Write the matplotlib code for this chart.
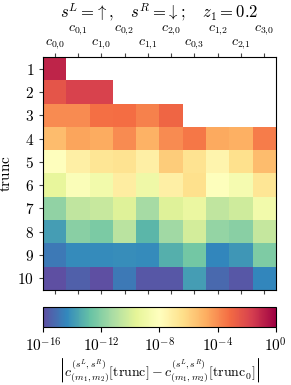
import numpy as np
import matplotlib
matplotlib.use("Agg")
import matplotlib.pyplot as plt
from matplotlib.colors import LogNorm

plt.rcParams['mathtext.fontset'] = 'cm'
plt.rcParams['font.family'] = 'serif'
plt.rcParams['font.serif'] = ['DejaVu Serif']

# -------- DATA --------
coeff_labels = [r"$c_{0,\!0}$", r"$c_{0,\!1}$", r"$c_{1,\!0}$", r"$c_{0,\!2}$", r"$c_{1,\!1}$",
                r"$c_{2,\!0}$", r"$c_{0,\!3}$", r"$c_{1,\!2}$", r"$c_{2,\!1}$", r"$c_{3,\!0}$"]
trunc_values = [1, 2, 3, 4, 5, 6, 7, 8, 9, 10]
cbar_ticks = [1e-16, 1e-12, 1e-8, 1e-4, 1e0]
cbar_ticklabels = [r"$10^{-16}$", r"$10^{-12}$", r"$10^{-8}$", r"$10^{-4}$", r"$10^{0}$"]

# log10 of |difference|, nan where coefficient does not exist at that trunc
log_diff = np.array([
    [-1.0, np.nan, np.nan, np.nan, np.nan, np.nan, np.nan, np.nan, np.nan, np.nan],
    [-2.4, -1.8, -1.8, np.nan, np.nan, np.nan, np.nan, np.nan, np.nan, np.nan],
    [-4.0, -4.0, -3.3, -3.2, -3.7, -3.0, np.nan, np.nan, np.nan, np.nan],
    [-5.3, -4.6, -4.8, -4.0, -5.0, -4.0, -3.5, -4.7, -4.9, -3.6],
    [-8.0, -7.2, -6.7, -6.6, -7.2, -5.8, -6.6, -7.5, -6.5, -5.3],
    [-9.4, -8.3, -8.8, -7.1, -9.0, -7.2, -6.5, -8.1, -8.6, -6.7],
    [-11.8, -10.6, -10.4, -9.8, -11.3, -9.8, -9.2, -10.6, -10.2, -8.8],
    [-13.8, -12.0, -12.3, -10.8, -13.1, -11.4, -10.1, -11.7, -12.0, -10.5],
    [-14.8, -14.3, -14.3, -14.2, -14.3, -13.3, -12.5, -14.4, -14.0, -12.2],
    [-16.0, -15.5, -16.0, -14.8, -15.7, -15.7, -13.8, -15.2, -15.7, -14.4],
])
diff = 10.0 ** log_diff

# -------- PLOT --------
fig = plt.figure(figsize=(2.91, 3.85), dpi=100)
ax = fig.add_axes([0.148, 0.247, 0.8, 0.605])
cax = fig.add_axes([0.148, 0.151, 0.8, 0.052])

cmap = plt.get_cmap("Spectral_r").copy()
cmap.set_bad("white")
norm = LogNorm(vmin=1e-16, vmax=1e0)
im = ax.imshow(np.ma.masked_invalid(diff), cmap=cmap, norm=norm,
               aspect="auto", interpolation="nearest")

ax.set_xticks(range(len(coeff_labels)))
ax.set_xticklabels(coeff_labels, fontsize=10)
ax.xaxis.set_ticks_position("both")
ax.tick_params(axis="x", labeltop=True, labelbottom=False, length=3, color="#444444")
for i, t in enumerate(ax.xaxis.get_major_ticks()):
    t.set_pad(1.5 if i % 2 == 0 else 11.5)

ax.set_yticks(range(len(trunc_values)))
ax.set_yticklabels([f"${v}$" for v in trunc_values], fontsize=11)
ax.tick_params(axis="y", length=3, color="#444444")
ax.set_ylabel(r"$\mathrm{trunc}$", fontsize=11, labelpad=3)

ax.set_title(r"$s^L=\!\uparrow,\quad s^R=\!\downarrow;\quad z_1=0.2$",
             fontsize=12, y=1.0, pad=28.5)

cb = fig.colorbar(im, cax=cax, orientation="horizontal")
cb.set_ticks(cbar_ticks)
cb.set_ticklabels(cbar_ticklabels, fontsize=11)
cb.ax.minorticks_off()
cb.set_label(r"$\left|c^{(s^L,s^R)}_{(m_1,m_2)}[\mathrm{trunc}]-c^{(s^L,s^R)}_{(m_1,m_2)}[\mathrm{trunc}_0]\right|$",
             fontsize=10, labelpad=1)

fig.savefig("out.png", dpi=100)
